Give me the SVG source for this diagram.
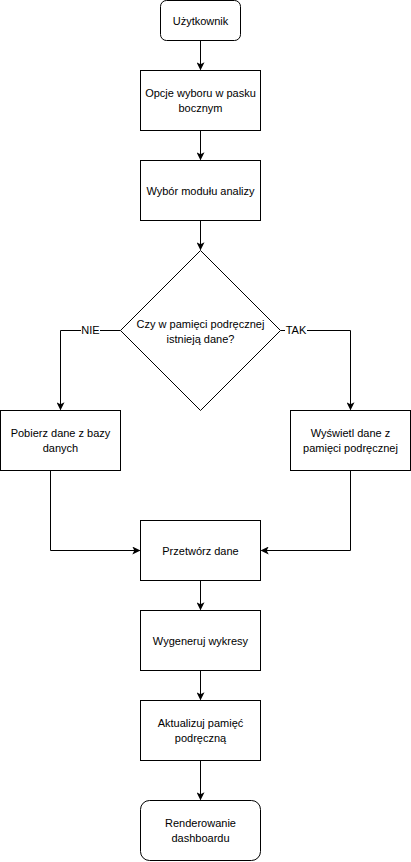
<svg xmlns="http://www.w3.org/2000/svg" width="411" height="862" viewBox="0 0 411 862">
<defs>
<marker id="arr" viewBox="0 0 10 10" refX="9" refY="5" markerWidth="8" markerHeight="8" markerUnits="userSpaceOnUse" orient="auto">
<path d="M0,0 L10,5 L0,10 L2.5,5 Z" fill="#000"/>
</marker>
<style>
.n{fill:#fff;stroke:#000;stroke-width:1}
.t{font-family:"Liberation Sans",Arial,sans-serif;font-size:11px;fill:#000;text-anchor:middle}
.c{fill:none;stroke:#000;stroke-width:1;marker-end:url(#arr)}
</style>
</defs>
<rect width="411" height="862" fill="#fff"/>
<g id="connectors">
<path class="c" d="M200.5,40.5 V69.5"/>
<path class="c" d="M200.5,130.5 V159.5"/>
<path class="c" d="M200.5,220.5 V249.5"/>
<path class="c" d="M120.5,330.5 H60.5 V409.5"/>
<path class="c" d="M280.5,330.5 H350.5 V409.5"/>
<path class="c" d="M50.5,470.5 V550.5 H139.5"/>
<path class="c" d="M350.5,470.5 V550.5 H261.5"/>
<path class="c" d="M200.5,580.5 V609.5"/>
<path class="c" d="M200.5,670.5 V699.5"/>
<path class="c" d="M200.5,760.5 V799.5"/>
<rect x="81" y="323" width="19" height="14" fill="#fff"/>
<text class="t" x="90.5" y="334">NIE</text>
<rect x="285" y="323" width="22" height="14" fill="#fff"/>
<text class="t" x="296" y="334">TAK</text>
</g>
<g id="uzytkownik">
<rect class="n" x="160.5" y="0.5" width="80" height="40" rx="6"/>
<text class="t" x="200.5" y="24.5">Użytkownik</text>
</g>
<g id="opcje">
<rect class="n" x="140.5" y="70.5" width="120" height="60"/>
<text class="t" x="200.5" y="96.5">Opcje wyboru w pasku</text>
<text class="t" x="200.5" y="111.5">bocznym</text>
</g>
<g id="wybor">
<rect class="n" x="140.5" y="160.5" width="120" height="60"/>
<text class="t" x="200.5" y="194.5">Wybór modułu analizy</text>
</g>
<g id="decyzja">
<path class="n" d="M200.5,250.5 L280.5,330.5 L200.5,410.5 L120.5,330.5 Z"/>
<text class="t" x="200.5" y="327.5">Czy w pamięci podręcznej</text>
<text class="t" x="200.5" y="342.5">istnieją dane?</text>
</g>
<g id="pobierz">
<rect class="n" x="0.5" y="410.5" width="120" height="60"/>
<text class="t" x="60.5" y="436.5">Pobierz dane z bazy</text>
<text class="t" x="60.5" y="451.5">danych</text>
</g>
<g id="wyswietl">
<rect class="n" x="290.5" y="410.5" width="120" height="60"/>
<text class="t" x="350.5" y="436.5">Wyświetl dane z</text>
<text class="t" x="350.5" y="451.5">pamięci podręcznej</text>
</g>
<g id="przetworz">
<rect class="n" x="140.5" y="520.5" width="120" height="60"/>
<text class="t" x="200.5" y="554.5">Przetwórz dane</text>
</g>
<g id="wygeneruj">
<rect class="n" x="140.5" y="610.5" width="120" height="60"/>
<text class="t" x="200.5" y="644.5">Wygeneruj wykresy</text>
</g>
<g id="aktualizuj">
<rect class="n" x="140.5" y="700.5" width="120" height="60"/>
<text class="t" x="200.5" y="726.5">Aktualizuj pamięć</text>
<text class="t" x="200.5" y="741.5">podręczną</text>
</g>
<g id="renderowanie">
<rect class="n" x="140.5" y="800.5" width="120" height="60" rx="9"/>
<text class="t" x="200.5" y="826.5">Renderowanie</text>
<text class="t" x="200.5" y="841.5">dashboardu</text>
</g>
</svg>
